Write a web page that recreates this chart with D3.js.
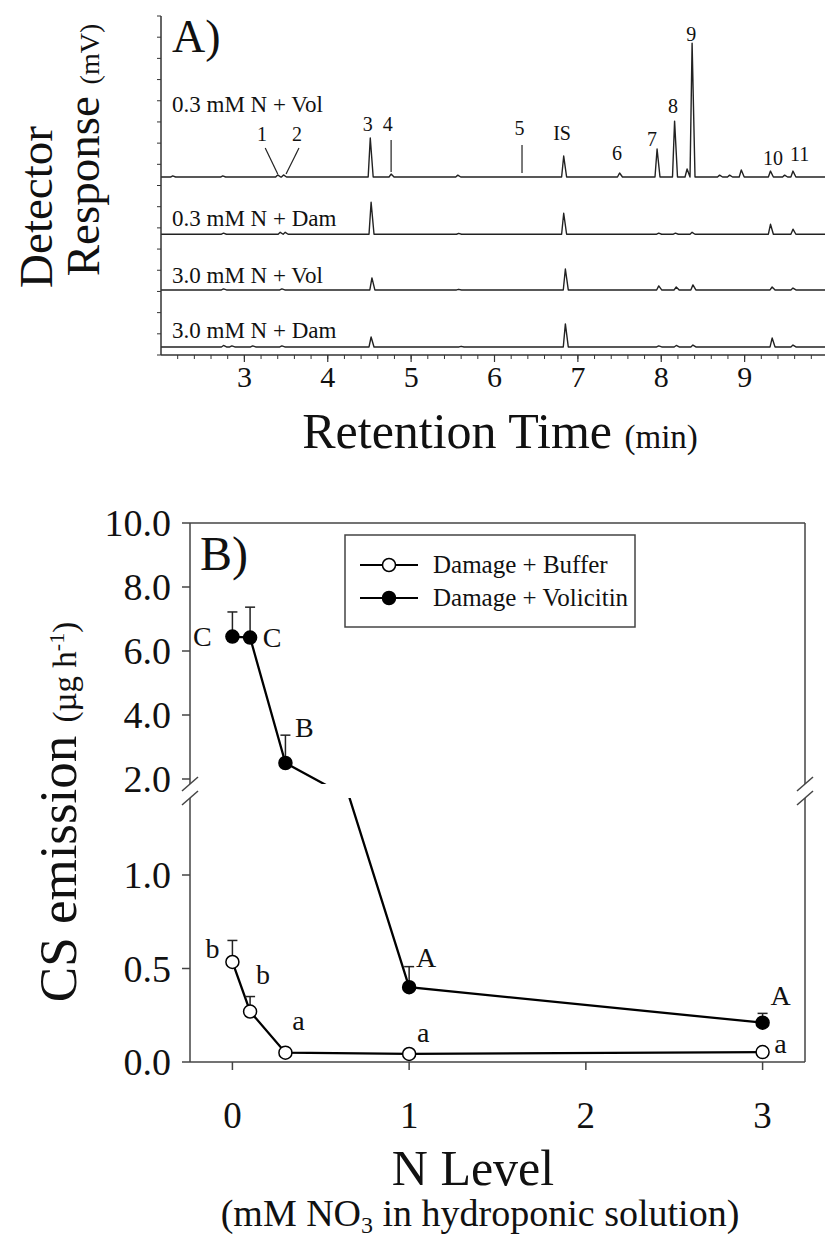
<!DOCTYPE html>
<html>
<head>
<meta charset="utf-8">
<script src="https://cdn.jsdelivr.net/npm/d3@7"></script>
<style>
  body { margin: 0; background: #fff; }
  text { font-family: "Liberation Serif", "Times New Roman", serif; fill: #111; }
</style>
</head>
<body>
<div id="chart"></div>
<script>
// ---------- Panel A data: chromatogram peaks ----------
const traceNames = ["0.3 mM N + Vol", "0.3 mM N + Dam", "3.0 mM N + Vol", "3.0 mM N + Dam"];
const traceOffsets = [8.4, 5.7, 3.07, 0.38]; // baseline of each trace (mV)
const peakTimes = [
  [2.14, 2.74, 3.40, 3.47, 4.51, 4.76, 5.56, 6.83, 7.50, 7.95, 8.16, 8.31, 8.37, 8.70, 8.82, 8.96, 9.31, 9.48, 9.58],
  [2.75, 3.43, 3.49, 4.52, 5.57, 6.83, 7.97, 8.17, 8.37, 9.31, 9.58],
  [2.75, 3.45, 4.53, 5.57, 6.85, 7.97, 8.18, 8.38, 9.33, 9.58],
  [2.75, 2.85, 3.10, 3.45, 4.52, 5.60, 6.85, 7.97, 8.18, 8.38, 9.33, 9.58]
];
const peakHeights = [
  [0.05, 0.05, 0.10, 0.10, 1.84, 0.14, 0.09, 0.99, 0.19, 1.32, 2.64, 0.38, 6.32, 0.09, 0.09, 0.33, 0.28, 0.09, 0.28],
  [0.05, 0.09, 0.09, 1.51, 0.04, 0.99, 0.05, 0.05, 0.09, 0.47, 0.24],
  [0.05, 0.05, 0.57, 0.03, 0.99, 0.19, 0.14, 0.24, 0.14, 0.09],
  [0.07, 0.05, 0.05, 0.05, 0.47, 0.03, 1.09, 0.05, 0.07, 0.09, 0.42, 0.09]
];
const peakLabels = ["1", "2", "3", "4", "5", "IS", "6", "7", "8", "9", "10", "11"];
const peakLabelTimes = [3.21, 3.63, 4.48, 4.72, 6.30, 6.81, 7.47, 7.89, 8.14, 8.36, 9.34, 9.66];
const peakLabelLevels = [10.10, 10.10, 10.57, 10.57, 10.38, 10.15, 9.20, 9.86, 11.42, 14.82, 8.97, 9.16];
// leader lines: [t1, level1, t2, level2]
const leaders = [[3.25, 9.77, 3.40, 8.54], [3.655, 9.77, 3.50, 8.54], [4.76, 10.15, 4.76, 8.64], [6.33, 9.91, 6.33, 8.59]];
const timeTicks = [3, 4, 5, 6, 7, 8, 9];

// ---------- Panel B data ----------
const nLevels = [0, 0.1, 0.3, 1, 3];
const bufferMean = [0.535, 0.27, 0.05, 0.043, 0.053];
const bufferSE = [0.115, 0.08, 0, 0, 0];
const volMean = [6.45, 6.42, 2.5, 0.40, 0.21];
const volSE = [0.77, 0.95, 0.87, 0.11, 0.05];
const bufferLetters = ["b", "b", "a", "a", "a"];
const volLetters = ["C", "C", "B", "A", "A"];
const upperTicks = [2, 4, 6, 8, 10];
const lowerTicks = [0, 0.5, 1];
const nTicks = [0, 1, 2, 3];

const W = 825, H = 1238;
const svg = d3.select("#chart").append("svg").attr("width", W).attr("height", H);

// =================== Panel A ===================
const xA = d3.scaleLinear().domain([2, 10]).range([161, 828]);
const yA = d3.scaleLinear().domain([0, 16]).range([355, 16]);
const wL = 0.025, wR = 0.035; // peak half widths (min)
const gA = svg.append("g");
const lineA = d3.line().x(d => xA(d[0])).y(d => yA(d[1]));
const labelLift = [65, 8, 7, 9];

traceNames.forEach((name, i) => {
  const base = traceOffsets[i];
  let pts = [[2, base]];
  peakTimes[i].forEach((t, j) => {
    pts.push([t - wL, base], [t, base + peakHeights[i][j]], [t + wR, base]);
  });
  pts.push([10, base]);
  gA.append("path")
    .attr("d", lineA(pts))
    .attr("fill", "none")
    .attr("stroke", "#222")
    .attr("stroke-width", 1.4)
    .attr("stroke-linejoin", "round");
  gA.append("text")
    .attr("x", 172)
    .attr("y", yA(base) - labelLift[i])
    .style("font-size", "23px")
    .text(name);
});

peakLabels.forEach((l, i) => {
  gA.append("text")
    .attr("x", xA(peakLabelTimes[i]))
    .attr("y", yA(peakLabelLevels[i]))
    .attr("text-anchor", "middle")
    .style("font-size", "20px")
    .text(l);
});
leaders.forEach(d => {
  gA.append("line")
    .attr("x1", xA(d[0])).attr("y1", yA(d[1]))
    .attr("x2", xA(d[2])).attr("y2", yA(d[3]))
    .attr("stroke", "#222").attr("stroke-width", 1.2);
});

// axes
gA.append("line").attr("x1", 161).attr("x2", 161).attr("y1", yA(16)).attr("y2", yA(0))
  .attr("stroke", "#333").attr("stroke-width", 1.5);
gA.append("line").attr("x1", 161).attr("x2", 825).attr("y1", yA(0)).attr("y2", yA(0))
  .attr("stroke", "#333").attr("stroke-width", 1.5);
gA.selectAll("line.ytick").data(d3.range(0, 17)).enter().append("line")
  .attr("x1", 157).attr("x2", 161)
  .attr("y1", d => yA(d)).attr("y2", d => yA(d))
  .attr("stroke", "#333").attr("stroke-width", 1);
gA.selectAll("line.xminor").data(d3.range(2.2, 9.95, 0.2)).enter().append("line")
  .attr("x1", d => xA(d)).attr("x2", d => xA(d))
  .attr("y1", yA(0)).attr("y2", yA(0) + 4)
  .attr("stroke", "#333").attr("stroke-width", 1);
gA.selectAll("line.xmajor").data(timeTicks).enter().append("line")
  .attr("x1", d => xA(d)).attr("x2", d => xA(d))
  .attr("y1", yA(0)).attr("y2", yA(0) + 7)
  .attr("stroke", "#333").attr("stroke-width", 1.2);
gA.selectAll("text.xlab").data(timeTicks).enter().append("text")
  .attr("x", d => xA(d)).attr("y", 387)
  .attr("text-anchor", "middle")
  .style("font-size", "30px")
  .text(d => d);

gA.append("text").attr("x", 172).attr("y", 52).style("font-size", "46px").text("A)");

const tA = gA.append("text").attr("x", 500).attr("y", 448).attr("text-anchor", "middle");
tA.append("tspan").style("font-size", "50px").text("Retention Time ");
tA.append("tspan").style("font-size", "33px").text("(min)");

gA.append("text")
  .attr("transform", "translate(52,207) rotate(-90)")
  .attr("text-anchor", "middle")
  .style("font-size", "47px")
  .text("Detector");
const tR = gA.append("text")
  .attr("transform", "translate(99,150) rotate(-90)")
  .attr("text-anchor", "middle");
tR.append("tspan").style("font-size", "47px").text("Response ");
tR.append("tspan").style("font-size", "28px").text("(mV)");

// =================== Panel B ===================
const xB = d3.scaleLinear().domain([-0.24, 3.24]).range([190, 805]);
const yUp = d3.scaleLinear().domain([2, 10]).range([779, 523]);
const yLo = d3.scaleLinear().domain([0, 1]).range([1062, 875]);
const upBottom = 784, loTop = 798;
const yOf = v => v >= 1.8 ? yUp(v) : yLo(v);
const gB = svg.append("g");

const defs = svg.append("defs");
defs.append("clipPath").attr("id", "clipUp").append("rect")
  .attr("x", 190).attr("y", 523).attr("width", 615).attr("height", upBottom - 523);
defs.append("clipPath").attr("id", "clipLo").append("rect")
  .attr("x", 190).attr("y", loTop).attr("width", 615).attr("height", 1062 - loTop);

const axisColor = "#444";
// frame
gB.append("line").attr("x1", 190).attr("x2", 805).attr("y1", 523).attr("y2", 523).attr("stroke", axisColor).attr("stroke-width", 1.5);
gB.append("line").attr("x1", 190).attr("x2", 805).attr("y1", 1062).attr("y2", 1062).attr("stroke", axisColor).attr("stroke-width", 1.5);
[190, 805].forEach(x => {
  gB.append("line").attr("x1", x).attr("x2", x).attr("y1", 523).attr("y2", upBottom).attr("stroke", axisColor).attr("stroke-width", 1.5);
  gB.append("line").attr("x1", x).attr("x2", x).attr("y1", loTop).attr("y2", 1062).attr("stroke", axisColor).attr("stroke-width", 1.5);
  [upBottom, loTop].forEach(y => {
    gB.append("line").attr("x1", x - 8).attr("x2", x + 8).attr("y1", y + 7).attr("y2", y - 7)
      .attr("stroke", axisColor).attr("stroke-width", 1.5);
  });
});

// y ticks
const yTickData = upperTicks.map(v => [v, yUp(v)]).concat(lowerTicks.map(v => [v, yLo(v)]));
gB.selectAll("line.yt").data(yTickData).enter().append("line")
  .attr("x1", 182).attr("x2", 190).attr("y1", d => d[1]).attr("y2", d => d[1])
  .attr("stroke", axisColor).attr("stroke-width", 1.5);
gB.selectAll("text.yl").data(yTickData).enter().append("text")
  .attr("x", 171).attr("y", d => d[1]).attr("dy", "0.35em")
  .attr("text-anchor", "end")
  .style("font-size", "38px")
  .text(d => d3.format(".1f")(d[0]));
// x ticks
gB.selectAll("line.xt").data(nTicks).enter().append("line")
  .attr("x1", d => xB(d)).attr("x2", d => xB(d)).attr("y1", 1062).attr("y2", 1070)
  .attr("stroke", axisColor).attr("stroke-width", 1.5);
gB.selectAll("text.xl").data(nTicks).enter().append("text")
  .attr("x", d => xB(d)).attr("y", 1128).attr("text-anchor", "middle")
  .style("font-size", "37px").text(d => d);

// lines
const ptsVol = nLevels.map((n, i) => [n, volMean[i]]);
const ptsBuf = nLevels.map((n, i) => [n, bufferMean[i]]);
const lineUp = d3.line().x(d => xB(d[0])).y(d => yUp(d[1]));
const lineLo = d3.line().x(d => xB(d[0])).y(d => yLo(d[1]));
gB.append("path").attr("d", lineUp(ptsVol)).attr("clip-path", "url(#clipUp)")
  .attr("fill", "none").attr("stroke", "#000").attr("stroke-width", 2.3);
gB.append("path").attr("d", lineLo(ptsVol)).attr("clip-path", "url(#clipLo)")
  .attr("fill", "none").attr("stroke", "#000").attr("stroke-width", 2.3);
gB.append("path").attr("d", lineLo(ptsBuf)).attr("clip-path", "url(#clipLo)")
  .attr("fill", "none").attr("stroke", "#000").attr("stroke-width", 2.3);

// error bars (upward only)
function errBars(means, ses) {
  nLevels.forEach((n, i) => {
    if (ses[i] <= 0) return;
    const x = xB(n), y0 = yOf(means[i]), y1 = yOf(means[i] + ses[i]);
    gB.append("line").attr("x1", x).attr("x2", x).attr("y1", y0).attr("y2", y1).attr("stroke", "#222").attr("stroke-width", 1.5);
    gB.append("line").attr("x1", x - 5).attr("x2", x + 5).attr("y1", y1).attr("y2", y1).attr("stroke", "#222").attr("stroke-width", 1.5);
  });
}
errBars(volMean, volSE);
errBars(bufferMean, bufferSE);

// markers
gB.selectAll("circle.buf").data(ptsBuf).enter().append("circle")
  .attr("cx", d => xB(d[0])).attr("cy", d => yOf(d[1])).attr("r", 6.5)
  .attr("fill", "#fff").attr("stroke", "#000").attr("stroke-width", 1.5);
gB.selectAll("circle.vol").data(ptsVol).enter().append("circle")
  .attr("cx", d => xB(d[0])).attr("cy", d => yOf(d[1])).attr("r", 6.5)
  .attr("fill", "#000").attr("stroke", "#000").attr("stroke-width", 1.5);

// significance letters (offsets from each point, px)
const volLetterOff = [[-30, 9], [22, 9], [19, -26], [17, -20], [18, -18]];
const bufLetterOff = [[-20, -4], [13, -28], [13, -23], [14, -12], [18, 1]];
function letters(means, labs, offs) {
  nLevels.forEach((n, i) => {
    gB.append("text")
      .attr("x", xB(n) + offs[i][0]).attr("y", yOf(means[i]) + offs[i][1])
      .attr("text-anchor", "middle").style("font-size", "28px").text(labs[i]);
  });
}
letters(volMean, volLetters, volLetterOff);
letters(bufferMean, bufferLetters, bufLetterOff);

// legend
const lg = gB.append("g");
lg.append("rect").attr("x", 345).attr("y", 535).attr("width", 290).attr("height", 92)
  .attr("fill", "#fff").attr("stroke", axisColor).attr("stroke-width", 1.5);
[["Damage + Buffer", "#fff", 565], ["Damage + Volicitin", "#000", 598]].forEach(r => {
  lg.append("line").attr("x1", 360).attr("x2", 418).attr("y1", r[2]).attr("y2", r[2]).attr("stroke", "#000").attr("stroke-width", 2);
  lg.append("circle").attr("cx", 389).attr("cy", r[2]).attr("r", 6.5).attr("fill", r[1]).attr("stroke", "#000").attr("stroke-width", 1.5);
  lg.append("text").attr("x", 433).attr("y", r[2] + 8).style("font-size", "25px").text(r[0]);
});

gB.append("text").attr("x", 200).attr("y", 570).style("font-size", "48px").text("B)");

// axis titles
gB.append("text").attr("x", 473).attr("y", 1185).attr("text-anchor", "middle").style("font-size", "50px").text("N Level");
const tN = gB.append("text").attr("x", 480).attr("y", 1226).attr("text-anchor", "middle").style("font-size", "38px");
tN.append("tspan").text("(mM NO");
tN.append("tspan").attr("baseline-shift", "-30%").style("font-size", "24px").text("3");
tN.append("tspan").text(" in hydroponic solution)");

const tY = gB.append("text")
  .attr("transform", "translate(76,812) rotate(-90)")
  .attr("text-anchor", "middle");
tY.append("tspan").style("font-size", "53px").text("CS emission ");
tY.append("tspan").style("font-size", "33px").text("(\u00b5g h");
tY.append("tspan").attr("baseline-shift", "super").style("font-size", "22px").text("-1");
tY.append("tspan").style("font-size", "33px").text(")");
</script>
</body>
</html>
